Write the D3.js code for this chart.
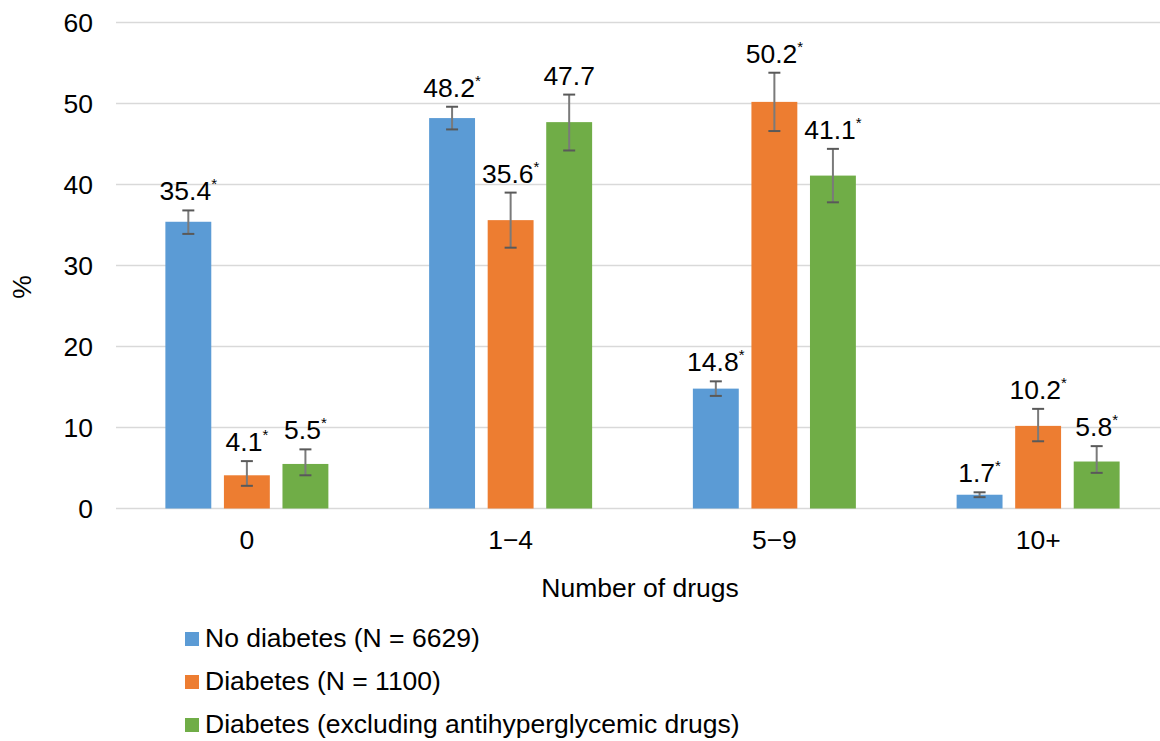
<!DOCTYPE html>
<html>
<head>
<meta charset="utf-8">
<script src="https://cdn.jsdelivr.net/npm/d3@7/dist/d3.min.js"></script>
<style>
  html, body { margin: 0; padding: 0; background: #fff; }
  svg { display: block; font-family: "Liberation Sans", Arial, sans-serif; }
</style>
</head>
<body>
<svg id="chart" width="1160" height="741"></svg>
<script>
// Share of participants by number of drugs taken
const categories = ["0", "1\u22124", "5\u22129", "10+"];
const seriesNames = [
  "No diabetes (N = 6629)",
  "Diabetes (N = 1100)",
  "Diabetes (excluding antihyperglycemic drugs)"
];
const seriesColors = ["#5B9BD5", "#ED7D31", "#70AD47"];

// values[series][category]
const values = [
  [35.4, 48.2, 14.8, 1.7],
  [4.1, 35.6, 50.2, 10.2],
  [5.5, 47.7, 41.1, 5.8]
];
// 95% confidence limits
const lower = [
  [33.9, 46.8, 13.9, 1.4],
  [2.8, 32.2, 46.6, 8.3],
  [4.1, 44.2, 37.8, 4.4]
];
const upper = [
  [36.8, 49.6, 15.7, 2.0],
  [5.85, 39.0, 53.8, 12.3],
  [7.3, 51.1, 44.4, 7.7]
];
// significant difference marker
const significant = [
  [true, true, true, true],
  [true, true, true, true],
  [true, false, true, true]
];
const yTicks = [0, 10, 20, 30, 40, 50, 60];

const FS = 26.5;
const svg = d3.select("#chart");
const W = 1160;

const y = d3.scaleLinear().domain([0, 60]).range([508.5, 22.5]);
const x0 = d3.scaleBand().domain(categories).range([115, 1170])
  .paddingInner(0.382).paddingOuter(0.191);
const x1 = d3.scaleBand().domain(d3.range(seriesNames.length))
  .range([0, x0.bandwidth()]).paddingInner(0.216).paddingOuter(0);

// gridlines
svg.append("g").selectAll("line").data(yTicks).join("line")
  .attr("x1", 116).attr("x2", W)
  .attr("y1", d => y(d)).attr("y2", d => y(d))
  .attr("stroke", "#d9d9d9").attr("stroke-width", 1.5);

// y axis labels
const yAxis = d3.axisLeft(y).tickValues(yTicks).tickSize(0).tickPadding(0);
const gy = svg.append("g").attr("transform", "translate(93,0)").call(yAxis);
gy.select(".domain").remove();
gy.selectAll("text").attr("font-size", FS).attr("fill", "#000")
  .attr("font-family", "Liberation Sans, Arial, sans-serif").attr("dy", "0.35em");

// x axis labels
const xAxis = d3.axisBottom(x0).tickSize(0).tickPadding(0);
const gx = svg.append("g").attr("transform", "translate(0,529)").call(xAxis);
gx.select(".domain").remove();
gx.selectAll("text").attr("font-size", FS).attr("fill", "#000")
  .attr("font-family", "Liberation Sans, Arial, sans-serif").attr("dy", "0.75em");

// axis titles
svg.append("text").attr("x", 640).attr("y", 597).attr("text-anchor", "middle")
  .attr("font-size", FS).text("Number of drugs");
svg.append("text").attr("transform", "translate(31,287) rotate(-90)")
  .attr("text-anchor", "middle").attr("font-size", FS).text("%");

// flatten into records
const records = [];
seriesNames.forEach((s, si) => {
  categories.forEach((c, ci) => {
    records.push({
      si, c, v: values[si][ci], lo: lower[si][ci], hi: upper[si][ci],
      sig: significant[si][ci]
    });
  });
});
const cx = d => x0(d.c) + x1(d.si) + x1.bandwidth() / 2;

// bars
svg.append("g").selectAll("rect").data(records).join("rect")
  .attr("x", d => x0(d.c) + x1(d.si))
  .attr("width", x1.bandwidth())
  .attr("y", d => y(d.v))
  .attr("height", d => y(0) - y(d.v))
  .attr("fill", d => seriesColors[d.si]);

// error bars
const eb = svg.append("g").selectAll("g").data(records).join("g");
eb.append("line")
  .attr("x1", cx).attr("x2", cx)
  .attr("y1", d => y(d.hi)).attr("y2", d => y(d.lo))
  .attr("stroke", "#7a7a7a").attr("stroke-width", 2);
[d => d.hi, d => d.lo].forEach(acc => {
  eb.append("line")
    .attr("x1", d => cx(d) - 6).attr("x2", d => cx(d) + 6)
    .attr("y1", d => y(acc(d))).attr("y2", d => y(acc(d)))
    .attr("stroke", "#595959").attr("stroke-width", 2);
});

// value labels
const lbl = svg.append("g").selectAll("text").data(records).join("text")
  .attr("x", cx)
  .attr("y", d => y(d.hi) - 10)
  .attr("text-anchor", "middle")
  .attr("font-size", FS)
  .attr("fill", "#000");
lbl.append("tspan").text(d => d.v.toFixed(1));
lbl.filter(d => d.sig).append("tspan")
  .attr("font-size", 15).attr("dy", -11).text("*");

// legend (y = text baseline)
const lg = svg.append("g").selectAll("g").data(seriesNames).join("g")
  .attr("transform", (d, i) => `translate(185,${647 + i * 43})`);
lg.append("rect").attr("x", 0).attr("y", -15).attr("width", 14).attr("height", 14)
  .attr("fill", (d, i) => seriesColors[i]);
lg.append("text").attr("x", 20).attr("y", 0)
  .attr("font-size", FS).text(d => d);
</script>
</body>
</html>
